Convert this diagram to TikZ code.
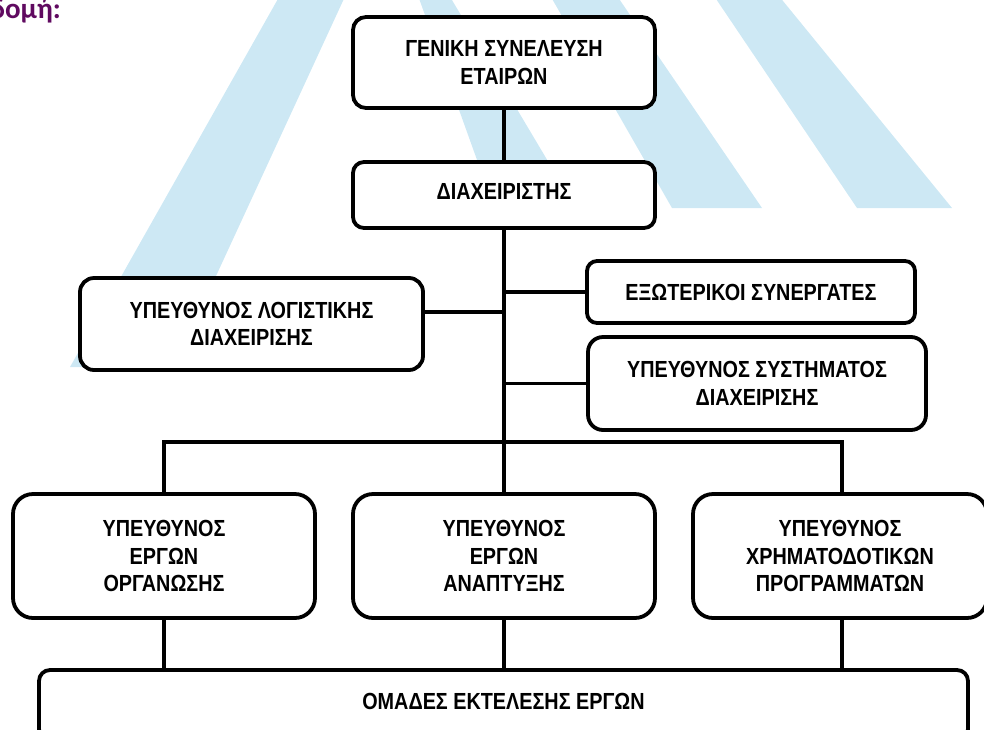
\documentclass[tikz,border=0pt]{standalone}
\usepackage{fontspec}
\setmainfont{Liberation Sans}[FakeStretch=0.85]
\newfontfamily\titlefont{Carlito}
\definecolor{wm}{RGB}{205,232,244}
\definecolor{ttl}{RGB}{96,10,96}
\tikzset{
  box/.style={draw, line width=3.8pt, fill=white, rounded corners=#1, align=center,
    inner sep=0pt, font=\fontsize{23.3}{27.5}\selectfont\bfseries},
  link/.style={draw, line width=3.2pt}
}
\begin{document}
\begin{tikzpicture}[x=1pt,y=-1pt]
\useasboundingbox (0,0) rectangle (984,729);
% watermark
\fill[wm] (283,-10) -- (348,-10) -- (174,367) -- (70,367) -- cycle;
\fill[wm] (416,-10) -- (446,-10) -- (577,210) -- (495,210) -- cycle;
\fill[wm] (547,-10) -- (613,-10) -- (762,208) -- (672,208) -- cycle;
\fill[wm] (710,-10) -- (774,-10) -- (952,208) -- (857,208) -- cycle;
% title
\node (title) [anchor=base east, text=ttl, inner sep=0pt,
  font=\titlefont\bfseries\fontsize{29}{32}\selectfont] at (61,18) {δομή:};
% boxes
\node (gen)  [box=13pt, minimum width=302, minimum height=91] at (504,62.5) {ΓΕΝΙΚΗ ΣΥΝΕΛΕΥΣΗ\\ΕΤΑΙΡΩΝ};
\node (diax) [box=11pt, minimum width=302, minimum height=66, text depth=7pt] at (504,195) {ΔΙΑΧΕΙΡΙΣΤΗΣ};
\node (log)  [box=14pt, minimum width=343, minimum height=92] at (251.5,324) {ΥΠΕΥΘΥΝΟΣ ΛΟΓΙΣΤΙΚΗΣ\\ΔΙΑΧΕΙΡΙΣΗΣ};
\node (exw)  [box=10pt, minimum width=328, minimum height=62] at (751,292) {ΕΞΩΤΕΡΙΚΟΙ ΣΥΝΕΡΓΑΤΕΣ};
\node (sys)  [box=15pt, minimum width=338, minimum height=93] at (757,383.5) {ΥΠΕΥΘΥΝΟΣ ΣΥΣΤΗΜΑΤΟΣ\\ΔΙΑΧΕΙΡΙΣΗΣ};
\node (c1)   [box=20pt, minimum width=302, minimum height=124] at (164,556) {ΥΠΕΥΘΥΝΟΣ\\ΕΡΓΩΝ\\ΟΡΓΑΝΩΣΗΣ};
\node (c2)   [box=20pt, minimum width=302, minimum height=124] at (504,556) {ΥΠΕΥΘΥΝΟΣ\\ΕΡΓΩΝ\\ΑΝΑΠΤΥΞΗΣ};
\node (c3)   [box=20pt, minimum width=294, minimum height=124] at (840,556) {ΥΠΕΥΘΥΝΟΣ\\ΧΡΗΜΑΤΟΔΟΤΙΚΩΝ\\ΠΡΟΓΡΑΜΜΑΤΩΝ};
\node (omades) [box=11pt, minimum width=929, minimum height=70, text depth=7pt] at (503.5,705) {ΟΜΑΔΕΣ ΕΚΤΕΛΕΣΗΣ ΕΡΓΩΝ};
\coordinate (bus) at (504,442);
% connectors
\path[link] (gen) -- (diax);
\path[link] (diax.south) -- (c2.north);
\path[link] ([yshift=12pt]log.east) -- ([yshift=12pt]log.east -| diax.south);
\path[link] (exw.west) -- (exw.west -| diax.south);
\path[link] (sys.west) -- (sys.west -| diax.south);
\path[link] (c1.north) -- (c1.north |- bus) -- ([xshift=2pt]c3.north |- bus) -- ([xshift=2pt]c3.north);
\path[link] (c1.south) -- (c1.south |- omades.north);
\path[link] (c2.south) -- (c2.south |- omades.north);
\path[link] ([xshift=2pt]c3.south) -- ([xshift=2pt]c3.south |- omades.north);
\end{tikzpicture}
\end{document}
